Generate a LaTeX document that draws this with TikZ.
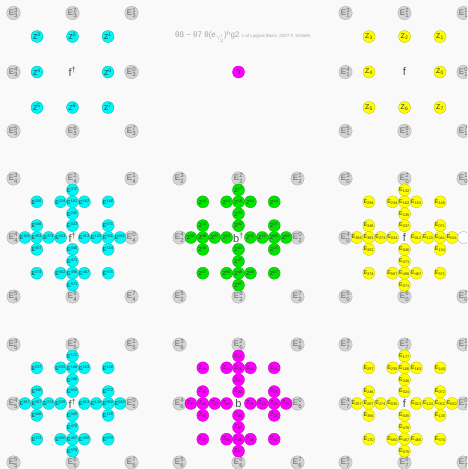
\documentclass[tikz,border=0pt]{standalone}
\usepackage{amsmath}
\usepackage{fontspec}
\setmainfont{Liberation Sans}

\definecolor{bgcol}{RGB}{249,249,249}
\definecolor{rootgray}{RGB}{212,212,212}
\definecolor{rimgray}{RGB}{165,165,165}
\definecolor{fcyan}{RGB}{0,245,245}
\definecolor{fyellow}{RGB}{255,255,0}
\definecolor{bgreen}{RGB}{0,228,0}
\definecolor{bmagenta}{RGB}{255,0,255}

\newcommand\Eup[1]{E$^{\text{#1}}$}
\newcommand\Edn[1]{E$_{\text{#1}}$}
\newcommand\Zup[1]{Z$^{\text{#1}}$}
\newcommand\Zdn[1]{Z$_{\text{#1}}$}

% positions of the 28 roots round a centre, in steps of one circle
\def\crossx{{0,-3,-1,0,1,3,0,0,-3,-4,-3,-2,-1,1,2,3,4,3,3,-3,0,0,-1,0,1,-3,3,0}}
\def\crossy{{-4,-3,-3,-3,-3,-3,-2,-1,-1,0,0,0,0,0,0,0,0,-1,1,1,1,2,3,3,3,3,3,4}}

\newcommand\rootcross[6]{%
  \foreach \l [count=\i from 0] in {#6} {
    \pgfmathsetmacro\dx{\crossx[\i]}
    \pgfmathsetmacro\dy{\crossy[\i]}
    \node[#2] (#1\i) at (#3+11.9*\dx,#4+11.9*\dy) {#5{\l}};
  }}

\tikzset{
  root/.style={circle,minimum size=12pt,inner sep=0pt,line width=0.3pt,
    font=\fontsize{5.5}{5.5}\selectfont,text=black!80},
  grayroot/.style={root,fill=rootgray,draw=rimgray,
    font=\fontsize{8}{8}\selectfont,text=black!60},
  cyanroot/.style={root,fill=fcyan,draw=fcyan!75!black},
  yellowroot/.style={root,fill=fyellow,draw=fyellow!75!black},
  greenroot/.style={root,fill=bgreen,draw=bgreen!75!black},
  magentaroot/.style={root,fill=bmagenta,draw=bmagenta!75!black},
  centre/.style={font=\fontsize{11}{11}\selectfont,text=black!70,inner sep=0pt}
}

\begin{document}
\begin{tikzpicture}[x=1pt,y=-1pt]
  \useasboundingbox (0,0) rectangle (467,469);
  \clip (0,0) rectangle (467,469);
  \fill[bgcol] (0,0) rectangle (467,469);

  % gray roots round the panels
  \foreach \cx/\cy/\s in {72.5/72/3,404.5/72/1,72.5/237.5/4,238.5/237.5/2,72.5/403.5/5,238.5/403.5/6,404.5/403.5/7}
    \foreach \dx/\dy/\k in {-1/-1/3,0/-1/2,1/-1/1,-1/0/4,1/0/0,-1/1/5,0/1/6,1/1/7}
      \node[grayroot] (g\s\k) at (\cx+59*\dx,\cy+59*\dy) {E$^{\text{\k}}_{\text{\s}}$};
  \foreach \dx/\dy/\k in {-1/-1/3,0/-1/2,1/-1/1,-1/0/4,-1/1/5,0/1/6,1/1/7}
    \node[grayroot] (g0\k) at (404.5+59*\dx,237.5+59*\dy) {E$^{\text{\k}}_{\text{0}}$};
  \node[root,fill=white,draw=rimgray] (g00) at (463.5,237.5) {};

  % top row
  \foreach \dx/\dy/\k in {1/0/0,1/-1/1,0/-1/2,-1/-1/3,-1/0/4,-1/1/5,0/1/6,1/1/7} {
    \node[cyanroot,font=\fontsize{7}{7}\selectfont] (zu\k) at (72.5+35.5*\dx,72+35.5*\dy) {\Zup{\k}};
    \node[yellowroot,font=\fontsize{7}{7}\selectfont] (zd\k) at (404.5+35.5*\dx,72+35.5*\dy) {\Zdn{\k}};
  }
  \node[magentaroot,font=\fontsize{9}{9}\selectfont,text=black] (y) at (238.5,72) {$\gamma$};
  \node[anchor=west,inner sep=0pt,text=black!35,font=\fontsize{8}{8}\selectfont] (caption) at (175,36.5)
    {θ8 − θ7 θ(e$_{\gamma'_2}$)$^{\text{h}}$g2 {\fontsize{4.5}{4.5}\selectfont c of Logical Basis, 2007 F. Schiele}};

  % middle row
  \rootcross{cu}{cyanroot}{72.5}{237.5}{\Eup}{372,256,234,152,162,146,245,023,346,356,353,273,024,013,123,051,061,071,134,357,046,471,562,456,467,374,571,571}
  \rootcross{bu}{greenroot}{238.5}{237.5}{\Zup}{17,25,23,15,16,14,24,02,34,35,26,27,03,01,12,05,06,07,13,36,04,47,56,45,46,37,67,57}
  \rootcross{cd}{yellowroot}{404.5}{237.5}{\Edn}{132,258,234,162,153,146,245,037,348,356,363,273,034,012,123,041,061,071,134,352,046,471,567,456,467,374,571,571}

  % bottom row
  \rootcross{du}{cyanroot}{72.5}{403.5}{\Eup}{172,237,235,166,163,146,246,024,346,267,267,274,035,013,124,052,062,072,135,356,045,470,560,457,460,173,570,570}
  \rootcross{bd}{magentaroot}{238.5}{403.5}{\Zdn}{17,25,23,15,16,14,24,02,34,35,26,27,03,01,12,05,06,07,13,36,04,47,56,45,46,37,67,57}
  \rootcross{dd}{yellowroot}{404.5}{403.5}{\Edn}{177,257,235,166,163,140,246,024,246,257,267,274,035,013,124,052,062,072,135,356,045,470,560,457,460,170,570,570}

  % centre labels
  \node[centre] (f1) at (72.5,72) {f\textsuperscript{\textdagger}};
  \node[centre] (f2) at (404.5,72) {f};
  \node[centre] (f3) at (72.5,237.5) {f\textsuperscript{\textdagger}};
  \node[centre] (b1) at (238.5,237.5) {b\textsuperscript{\textdagger}};
  \node[centre] (f4) at (404.5,237.5) {f};
  \node[centre] (f5) at (72.5,403.5) {f\textsuperscript{\textdagger}};
  \node[centre] (b2) at (238.5,403.5) {b};
  \node[centre] (f6) at (404.5,403.5) {f};
\end{tikzpicture}
\end{document}
